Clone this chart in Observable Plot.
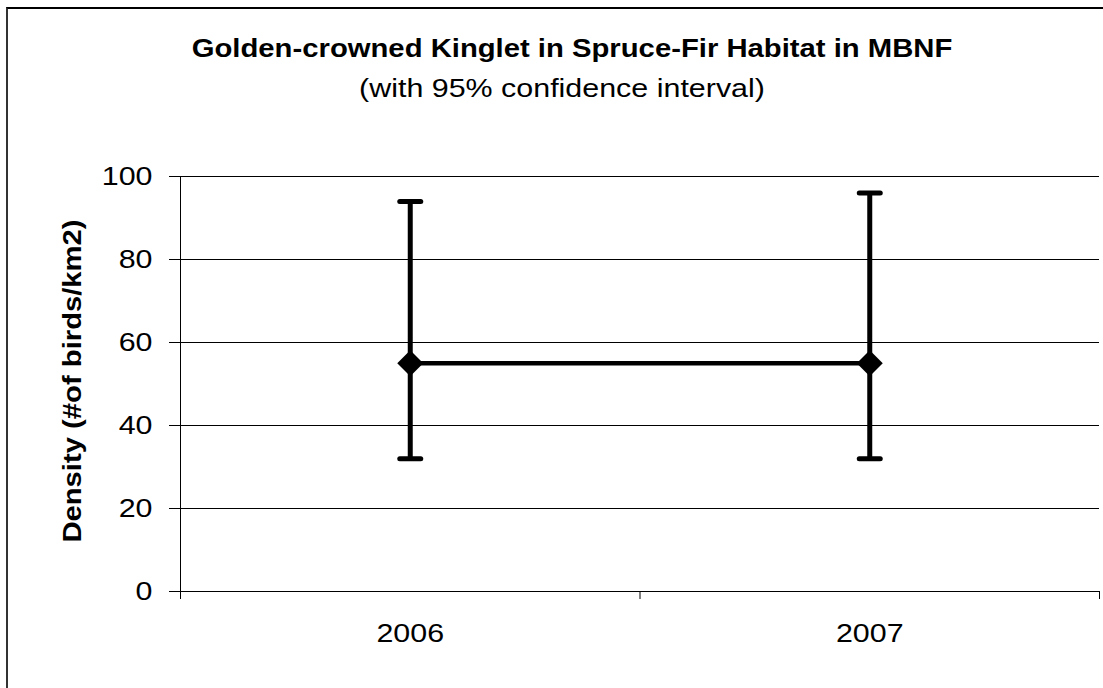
<!DOCTYPE html>
<html><head><meta charset="utf-8">
<script src="https://cdn.jsdelivr.net/npm/d3@7"></script>
<script src="https://cdn.jsdelivr.net/npm/@observablehq/plot@0.6"></script>
<style>
html,body{margin:0;padding:0;background:#fff;}
#wrap{position:relative;width:1103px;height:688px;overflow:hidden;font-family:"Liberation Sans",Arial,sans-serif;}
#frame{position:absolute;left:6px;top:7px;right:-4px;bottom:-4px;border-left:2px solid #333;border-top:2px solid #000;pointer-events:none;}
#head{position:relative;height:130px;}
.t{position:absolute;white-space:nowrap;color:#000;transform:translateX(-50%) scaleX(1.17);transform-origin:50% 50%;}
#title{top:36px;left:572px;font-size:25px;line-height:25px;font-weight:bold;}
#subtitle{top:75px;left:562px;font-size:26px;line-height:26px;}
#chart svg{display:block;overflow:visible;}
</style></head>
<body>
<div id="wrap">
  <div id="head"><div id="title" class="t"></div><div id="subtitle" class="t"></div></div>
  <div id="chart"></div>
  <div id="frame"></div>
</div>
<script>
const titleText = "Golden-crowned Kinglet in Spruce-Fir Habitat in MBNF";
const subtitleText = "(with 95% confidence interval)";
const yLabel = "Density (#of birds/km2)";
const years = ["2006", "2007"];
const density = [55, 55];
const lower = [32, 32];
const upper = [94, 96];
const yTicks = [0, 20, 40, 60, 80, 100];

document.getElementById("title").textContent = titleText;
document.getElementById("subtitle").textContent = subtitleText;

const data = years.map((y, i) => ({year: y, xi: i + 0.5, v: density[i], lo: lower[i], hi: upper[i]}));
const bounds = d3.range(years.length + 1);
const centers = years.map((y, i) => i + 0.5);

const capSymbol = {
  draw(ctx, size) {
    const h = Math.sqrt(size / Math.PI);
    ctx.moveTo(-h, 0);
    ctx.lineTo(h, 0);
  }
};

const chart = Plot.plot({
  width: 1103,
  height: 558,
  marginTop: 46,
  marginBottom: 97,
  marginLeft: 180,
  marginRight: 4,
  style: {fontFamily: "'Liberation Sans', Arial, sans-serif", color: "#000", background: "transparent"},
  x: {domain: [0, years.length], axis: null},
  y: {domain: [0, 100], axis: null},
  marks: [
    Plot.ruleY(yTicks, {stroke: "#000", strokeWidth: 1}),
    Plot.ruleX([0], {y1: 0, y2: 100, stroke: "#000", strokeWidth: 1}),
    Plot.axisY({ticks: yTicks, tickSize: 11, tickPadding: 17, fontSize: 26, label: null, stroke: "#000"}),
    Plot.axisX({ticks: bounds, tickSize: 8, tickFormat: () => "", label: null, stroke: "#000"}),
    Plot.axisX({ticks: centers, tickSize: 0, tickPadding: 32, fontSize: 26, label: null, tickFormat: (d, i) => years[i]}),
    Plot.text([yLabel], {frameAnchor: "left", textAnchor: "middle", lineAnchor: "middle", dx: -108, dy: -3, rotate: -90, fontSize: 25, fontWeight: "bold", fill: "#000"}),
    Plot.line(data, {x: "xi", y: "v", stroke: "#000", strokeWidth: 4.5}),
    Plot.ruleX(data, {x: "xi", y1: "lo", y2: "hi", stroke: "#000", strokeWidth: 5}),
    Plot.dot(data, {x: "xi", y: "lo", symbol: capSymbol, r: 10.5, stroke: "#000", strokeWidth: 5, strokeLinecap: "round", fill: "none"}),
    Plot.dot(data, {x: "xi", y: "hi", symbol: capSymbol, r: 10.5, stroke: "#000", strokeWidth: 5, strokeLinecap: "round", fill: "none"}),
    Plot.dot(data, {x: "xi", y: "v", symbol: "diamond2", r: 11.7, fill: "#000", stroke: "none"})
  ]
});

// widen glyphs horizontally (along the text direction) to match the reference's wider face
chart.querySelectorAll("text").forEach(t => {
  const tr = t.getAttribute("transform") || "";
  const x = t.getAttribute("x");
  let pre = "";
  if (x !== null && /^-?[\d.]+$/.test(x.trim())) {
    pre = ` translate(${+x},0)`;
    t.removeAttribute("x");
  }
  t.setAttribute("transform", (tr + pre + " scale(1.17,1)").trim());
});

document.getElementById("chart").appendChild(chart);
</script>
</body></html>
